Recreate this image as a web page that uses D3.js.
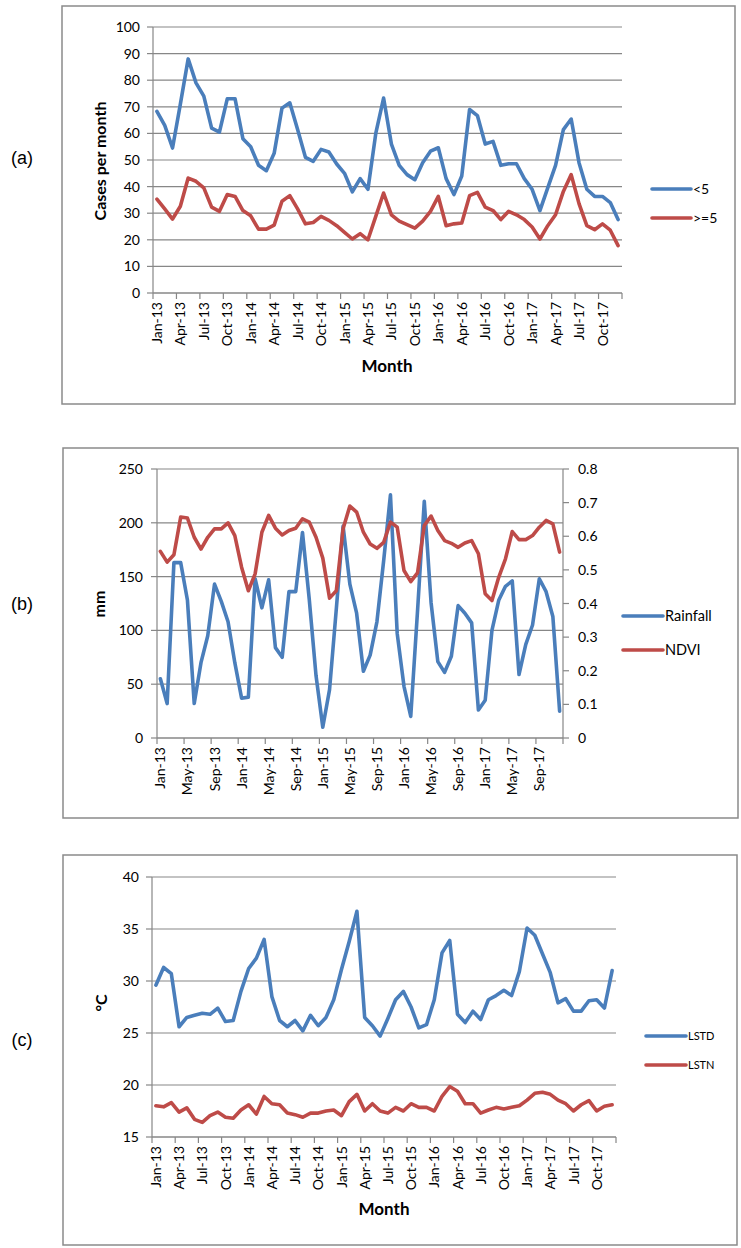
<!DOCTYPE html>
<html><head><meta charset="utf-8">
<script src="https://cdn.jsdelivr.net/npm/d3@7"></script>
<style>
html,body{margin:0;padding:0;background:#fff;}
svg text{font-family:Lato,"Open Sans",sans-serif;fill:#000;}
</style></head>
<body>
<script>
const months = ["Jan-13","Feb-13","Mar-13","Apr-13","May-13","Jun-13","Jul-13","Aug-13","Sep-13","Oct-13","Nov-13","Dec-13",
"Jan-14","Feb-14","Mar-14","Apr-14","May-14","Jun-14","Jul-14","Aug-14","Sep-14","Oct-14","Nov-14","Dec-14",
"Jan-15","Feb-15","Mar-15","Apr-15","May-15","Jun-15","Jul-15","Aug-15","Sep-15","Oct-15","Nov-15","Dec-15",
"Jan-16","Feb-16","Mar-16","Apr-16","May-16","Jun-16","Jul-16","Aug-16","Sep-16","Oct-16","Nov-16","Dec-16",
"Jan-17","Feb-17","Mar-17","Apr-17","May-17","Jun-17","Jul-17","Aug-17","Sep-17","Oct-17","Nov-17","Dec-17"];

const ticksA = ["Jan-13","Apr-13","Jul-13","Oct-13","Jan-14","Apr-14","Jul-14","Oct-14","Jan-15","Apr-15","Jul-15","Oct-15","Jan-16","Apr-16","Jul-16","Oct-16","Jan-17","Apr-17","Jul-17","Oct-17"];
const ticksB = ["Jan-13","May-13","Sep-13","Jan-14","May-14","Sep-14","Jan-15","May-15","Sep-15","Jan-16","May-16","Sep-16","Jan-17","May-17","Sep-17"];

const under5 = [68.3,63,54.5,71,88,79,74,62,60.5,73,73,58,55,48,46,52.5,69.5,71.5,61.5,51,49.5,54,53,48.5,45,38,43,39,60,73.3,56,48,44.5,42.6,49,53.3,54.6,43,37,44,69,66.7,56,57,48,48.6,48.6,43,39,31,39.5,48,61.4,65.4,49,39,36.3,36.3,34,27.6];
const over5 = [35.3,31.6,27.8,32.6,43.2,42,39.5,32.3,30.7,37,36.3,31,29,24,24,25.5,34.5,36.6,31.6,26,26.5,28.8,27.3,25.3,22.8,20.3,22.3,20,28.8,37.6,29.4,27,25.7,24.4,27,30.7,36.3,25.3,26,26.3,36.6,37.8,32.3,31,27.6,30.7,29.4,27.6,24.8,20.3,25.3,29.4,38.2,44.5,33.6,25.3,23.8,26,23.6,17.8];

const rainfall = [55,32,163,163,128,32,70,95,143,127,108,70,37,38,148,121,147,84,75,136,136,191,129,58,10,45,120,197,143,116,62,77,108,165,226,97,48,20,118,220,126,71,61,76,123,116,107,26,35,100,128,141,146,59,87,105,148,136,113,25];
const ndvi = [0.555,0.523,0.545,0.657,0.654,0.597,0.562,0.597,0.622,0.622,0.64,0.602,0.508,0.438,0.488,0.612,0.662,0.624,0.604,0.617,0.624,0.652,0.642,0.597,0.535,0.416,0.438,0.622,0.69,0.672,0.612,0.577,0.564,0.582,0.642,0.627,0.498,0.465,0.491,0.632,0.66,0.617,0.587,0.579,0.567,0.58,0.587,0.548,0.429,0.409,0.478,0.533,0.614,0.59,0.59,0.602,0.627,0.647,0.637,0.553];

const lstd = [29.6,31.3,30.7,25.6,26.5,26.7,26.9,26.8,27.4,26.1,26.2,29,31.2,32.2,34,28.5,26.2,25.6,26.2,25.2,26.7,25.7,26.5,28.2,31.1,33.8,36.7,26.5,25.7,24.7,26.4,28.2,29,27.5,25.5,25.8,28.2,32.7,33.9,26.8,26,27.1,26.3,28.2,28.6,29.1,28.6,30.9,35.1,34.4,32.6,30.8,27.9,28.3,27.1,27.1,28.1,28.2,27.4,31];
const lstn = [18,17.9,18.3,17.4,17.8,16.7,16.4,17.05,17.4,16.9,16.8,17.6,18.1,17.2,18.9,18.2,18.1,17.3,17.15,16.9,17.3,17.3,17.5,17.6,17.05,18.4,19.1,17.5,18.2,17.5,17.3,17.85,17.5,18.2,17.85,17.85,17.5,18.9,19.85,19.4,18.2,18.2,17.3,17.6,17.85,17.7,17.85,18,18.55,19.2,19.3,19.1,18.55,18.2,17.5,18.1,18.5,17.5,17.95,18.1];

const ticksYA = [0,10,20,30,40,50,60,70,80,90,100];
const ticksYB = [0,50,100,150,200,250];
const ticksYB2 = [0,0.1,0.2,0.3,0.4,0.5,0.6,0.7,0.8];
const ticksYC = [15,20,25,30,35,40];

const BLUE = "#4A7EBB", RED = "#BE4B48", GRID = "#878787", FRAME = "#8a8a8a";

const svg = d3.select("body").append("svg").attr("width",741).attr("height",1248);

function panel(o){
  const g = svg.append("g");
  g.append("rect").attr("x",o.frame[0]).attr("y",o.frame[1]).attr("width",o.frame[2]-o.frame[0]).attr("height",o.frame[3]-o.frame[1])
    .attr("fill","none").attr("stroke",FRAME).attr("stroke-width",1.5);
  const x = d3.scaleBand().domain(months).range([o.x0,o.x1]);
  const y = d3.scaleLinear().domain(o.ydom).range([o.yb,o.yt]);
  g.selectAll(".grid").data(o.yticks).enter().append("line")
    .attr("x1",o.x0).attr("x2",o.x1).attr("y1",d=>y(d)).attr("y2",d=>y(d))
    .attr("stroke",GRID).attr("stroke-width",1.2);
  g.append("line").attr("x1",o.x0).attr("x2",o.x0).attr("y1",o.yt).attr("y2",o.yb).attr("stroke",GRID).attr("stroke-width",1.2);
  g.selectAll(".yt").data(o.yticks).enter().append("line")
    .attr("x1",o.x0-6).attr("x2",o.x0).attr("y1",d=>y(d)).attr("y2",d=>y(d)).attr("stroke",GRID).attr("stroke-width",1.2);
  g.selectAll(".yl").data(o.yticks).enter().append("text")
    .attr("x",o.ylabX).attr("y",d=>y(d)).attr("dy","0.36em").attr("text-anchor","end")
    .attr("font-size",14).text(d=>d);
  g.append("line").attr("x1",o.x0).attr("x2",o.x1).attr("y1",o.yb).attr("y2",o.yb).attr("stroke",GRID).attr("stroke-width",1.2);
  const bounds = d3.range(0, months.length+1, o.step);
  g.selectAll(".xt").data(bounds).enter().append("line")
    .attr("x1",d=> d<months.length ? x(months[d]) : o.x1).attr("x2",d=> d<months.length ? x(months[d]) : o.x1)
    .attr("y1",o.yb).attr("y2",o.yb+6).attr("stroke",GRID).attr("stroke-width",1.2);
  g.selectAll(".xl").data(o.xticks).enter().append("text")
    .attr("transform",d=>`translate(${x(d)+x.bandwidth()/2},${o.yb+9}) rotate(-90)`)
    .attr("dy","0.36em").attr("text-anchor","end").attr("font-size",14).text(d=>d);
  let y2 = null;
  if(o.y2dom){
    y2 = d3.scaleLinear().domain(o.y2dom).range([o.yb,o.yt]);
    g.append("line").attr("x1",o.x1).attr("x2",o.x1).attr("y1",o.yt).attr("y2",o.yb).attr("stroke",GRID).attr("stroke-width",1.2);
    g.selectAll(".y2t").data(o.y2ticks).enter().append("line")
      .attr("x1",o.x1).attr("x2",o.x1+6).attr("y1",d=>y2(d)).attr("y2",d=>y2(d)).attr("stroke",GRID).attr("stroke-width",1.2);
    g.selectAll(".y2l").data(o.y2ticks).enter().append("text")
      .attr("x",o.x1+15).attr("y",d=>y2(d)).attr("dy","0.36em").attr("text-anchor","start")
      .attr("font-size",14).text(d=>d);
  }
  o.series.forEach(s=>{
    const sc = s.axis2 ? y2 : y;
    const line = d3.line().x((d,i)=>x(months[i])+x.bandwidth()/2).y(d=>sc(d));
    g.append("path").datum(s.values).attr("d",line).attr("fill","none")
      .attr("stroke",s.color).attr("stroke-width",3.6).attr("stroke-linejoin","round").attr("stroke-linecap","round");
  });
  o.series.forEach((s,i)=>{
    const ly = o.legY[i];
    g.append("line").attr("x1",o.legX[0]).attr("x2",o.legX[1]).attr("y1",ly).attr("y2",ly)
      .attr("stroke",s.color).attr("stroke-width",3.6).attr("stroke-linecap","round");
    g.append("text").attr("x",o.legX[1]+2).attr("y",ly).attr("dy","0.36em").attr("font-size",o.legFont).text(s.name);
  });
  g.append("text").attr("transform",`translate(${o.ytitle[0]},${o.ytitle[1]}) rotate(-90)`)
    .attr("text-anchor","middle").attr("dy","0.36em").attr("font-weight","bold").attr("font-size",o.ytitleFont).text(o.ytitleText);
  if(o.xtitle){
    g.append("text").attr("x",o.xtitle[0]).attr("y",o.xtitle[1]).attr("dy","0.36em").attr("text-anchor","middle")
      .attr("font-weight","bold").attr("font-size",17).text("Month");
  }
  g.append("text").attr("x",o.tag[0]).attr("y",o.tag[1]).attr("dy","0.36em").attr("text-anchor","middle")
    .attr("font-size",18).style("font-family","'Liberation Sans',Arial,sans-serif").text(o.tagText);
}

panel({frame:[62,6,735,404], x0:153, x1:622, yb:293, yt:27, ydom:[0,100], yticks:ticksYA, ylabX:140,
  step:3, xticks:ticksA,
  series:[{name:"<5",values:under5,color:BLUE},{name:">=5",values:over5,color:RED}],
  legX:[652,691], legY:[189,218], legFont:14,
  ytitle:[100,161], ytitleText:"Cases per month", ytitleFont:16, xtitle:[387,366], tag:[22,158], tagText:"(a)"});

panel({frame:[63,448,738,818], x0:157, x1:563, yb:738, yt:469, ydom:[0,250], yticks:ticksYB, ylabX:143,
  step:4, xticks:ticksB, y2dom:[0,0.8], y2ticks:ticksYB2,
  series:[{name:"Rainfall",values:rainfall,color:BLUE},{name:"NDVI",values:ndvi,color:RED,axis2:true}],
  legX:[623,663], legY:[616,650], legFont:14.5,
  ytitle:[99,604], ytitleText:"mm", ytitleFont:16, xtitle:null, tag:[22,604], tagText:"(b)"});

panel({frame:[63,855,737,1245], x0:152, x1:616, yb:1137, yt:877, ydom:[15,40], yticks:ticksYC, ylabX:139,
  step:3, xticks:ticksA,
  series:[{name:"LSTD",values:lstd,color:BLUE},{name:"LSTN",values:lstn,color:RED}],
  legX:[646,686], legY:[1036,1065], legFont:11,
  ytitle:[101,1003], ytitleText:"°C", ytitleFont:16, xtitle:[384,1209], tag:[22,1040], tagText:"(c)"});
</script>
</body></html>
